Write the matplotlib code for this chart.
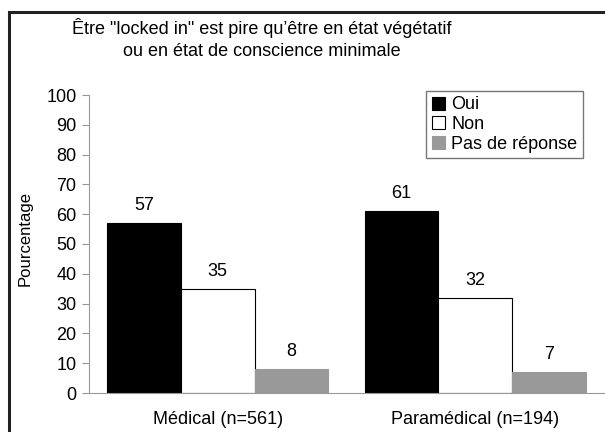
import numpy as np
import matplotlib.pyplot as plt
from matplotlib.patches import Rectangle

plt.rcParams['font.family'] = ['Liberation Sans', 'DejaVu Sans']

groups = ['Médical (n=561)', 'Paramédical (n=194)']
series = ['Oui', 'Non', 'Pas de réponse']
oui = [57, 61]
non = [35, 32]
pas = [8, 7]
colors = ['black', 'white', '#999999']

fig = plt.figure(figsize=(6.05, 4.32), dpi=100)
ax = fig.add_axes([89/605, 1-393/432, 515/605, (393-95)/432])

x = np.arange(len(groups))
w = 0.2857
for i, (vals, c, lab) in enumerate(zip([oui, non, pas], colors, series)):
    pos = x + (i - 1) * w
    ec = '#999999' if c == '#999999' else 'black'
    ax.bar(pos, vals, w, color=c, edgecolor=ec, linewidth=0.8, label=lab)
    for p, v in zip(pos, vals):
        ax.text(p, v + 3, str(v), ha='center', va='bottom', fontsize=13)

ax.set_xlim(-0.5, 1.5)
ax.set_ylim(0, 100)
ax.set_yticks(range(0, 101, 10))
ax.set_xticks(x)
ax.set_xticklabels(groups, fontsize=13)
ax.tick_params(axis='x', length=0, pad=13)
ax.tick_params(axis='y', labelsize=13, length=5, color='#999999', direction='out', pad=4)
for s in ['top', 'right']:
    ax.spines[s].set_visible(False)
for s in ['left', 'bottom']:
    ax.spines[s].set_color('#999999')
ax.set_ylabel('Pourcentage', fontsize=12)
ax.yaxis.set_label_coords(-56/515, 0.52)

leg = ax.legend(loc='upper right', bbox_to_anchor=(583/605, 1-91/432), bbox_transform=fig.transFigure,
                fontsize=13, frameon=True, fancybox=False, handlelength=0.75, handleheight=0.75,
                handletextpad=0.35, borderpad=0.3, labelspacing=0.15, borderaxespad=0)
leg.get_frame().set_edgecolor('#555555')
leg.get_frame().set_linewidth(1)

fig.text(262/605, 1-28/432, 'Être "locked in" est pire qu\u2019être en état végétatif', ha='center', va='center', fontsize=13)
fig.text(262/605, 1-52/432, 'ou en état de conscience minimale', ha='center', va='center', fontsize=13)

fig.patches.append(Rectangle((9/605, -0.1), 1.2, 1 - 12/432 + 0.1, transform=fig.transFigure,
                             fill=False, edgecolor='#222222', linewidth=2.2))

fig.savefig('out.png', dpi=100)
